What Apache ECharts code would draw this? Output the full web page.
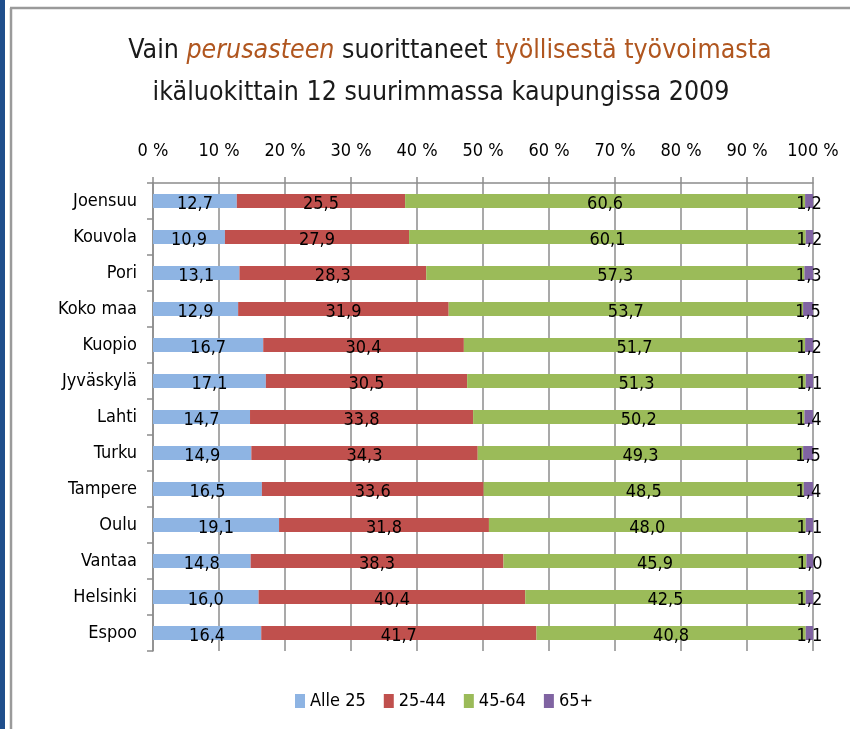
<!DOCTYPE html>
<html>
<head>
<meta charset="utf-8">
<script src="https://cdn.jsdelivr.net/npm/echarts@6/dist/echarts.min.js"></script>
<style>html,body{margin:0;padding:0;background:#fff;}#c{width:850px;height:729px;}</style>
</head>
<body>
<div id="c"></div>
<script>
var categories = ['Joensuu','Kouvola','Pori','Koko maa','Kuopio','Jyväskylä','Lahti','Turku','Tampere','Oulu','Vantaa','Helsinki','Espoo'];
var seriesNames = ['Alle 25','25-44','45-64','65+'];
var alle25 = [12.7,10.9,13.1,12.9,16.7,17.1,14.7,14.9,16.5,19.1,14.8,16.0,16.4];
var age25_44 = [25.5,27.9,28.3,31.9,30.4,30.5,33.8,34.3,33.6,31.8,38.3,40.4,41.7];
var age45_64 = [60.6,60.1,57.3,53.7,51.7,51.3,50.2,49.3,48.5,48.0,45.9,42.5,40.8];
var age65 = [1.2,1.2,1.3,1.5,1.2,1.1,1.4,1.5,1.4,1.1,1.0,1.2,1.1];
var xTicks = [0,10,20,30,40,50,60,70,80,90,100];

var FONT = "'Liberation Sans Narrow','DejaVu Sans Condensed',sans-serif";
var colors = ['#8EB4E3','#C0504D','#9BBB59','#8064A2'];
var allData = [alle25, age25_44, age45_64, age65];

var chart = echarts.init(document.getElementById('c'), null, {renderer:'canvas'});
var series = allData.map(function(d, i){
  return {
    name: seriesNames[i],
    type: 'bar',
    stack: 'total',
    barWidth: 14,
    data: d,
    itemStyle: {color: colors[i]},
    label: {
      show: true,
      position: 'inside',
      offset: [0, 3],
      color: '#000',
      fontFamily: FONT,
      fontSize: 18,
      formatter: function(p){ return p.value.toFixed(1).replace('.', ','); }
    }
  };
});

var richT = {
  a: {fontFamily: FONT, fontSize: 26.5, fontWeight: 'normal', color: '#1a1a1a'},
  b: {fontFamily: FONT, fontSize: 26.5, fontWeight: 'normal', color: '#B0561F', fontStyle: 'italic'},
  c: {fontFamily: FONT, fontSize: 26.5, fontWeight: 'normal', color: '#B0561F'}
};

chart.setOption({
  animation: false,
  backgroundColor: '#fff',
  color: colors,
  textStyle: {fontFamily: FONT},
  graphic: [
    {type:'rect', shape:{x:0,y:0,width:5,height:729}, style:{fill:'#1F4E8C'}, silent:true},
    {type:'line', shape:{x1:11,y1:8,x2:11,y2:729}, style:{stroke:'#9a9a9a', lineWidth:2.5}, silent:true},
    {type:'line', shape:{x1:10,y1:8,x2:850,y2:8}, style:{stroke:'#9a9a9a', lineWidth:2.5}, silent:true}
  ],
  title: [{
    left: 445,
    textAlign: 'center',
    top: 33,
    text: '{a|Vain }{b|perusasteen}{a| suorittaneet }{c|työllisestä työvoimasta}',
    textStyle: {fontWeight: 'normal', rich: richT}
  }, {
    left: 436,
    textAlign: 'center',
    top: 75,
    text: '{a|ikäluokittain 12 suurimmassa kaupungissa 2009}',
    textStyle: {fontWeight: 'normal', rich: richT}
  }],
  legend: {
    data: seriesNames,
    left: 290,
    top: 687,
    itemWidth: 10,
    itemHeight: 14,
    itemGap: 18,
    icon: 'rect',
    textStyle: {fontFamily: FONT, fontSize: 18, color: '#000'}
  },
  grid: {left: 153, right: 37, top: 183, bottom: 78, containLabel: false},
  xAxis: {
    type: 'value',
    position: 'top',
    min: 0, max: 100, interval: 10,
    axisLine: {show: true, lineStyle: {color: '#8c8c8c', width: 1.5}},
    axisTick: {show: true, length: 6, lineStyle: {color: '#8c8c8c', width: 1.5}},
    splitLine: {show: true, lineStyle: {color: '#8c8c8c', width: 1.5}},
    axisLabel: {margin: 23, fontFamily: FONT, fontSize: 18, color: '#000',
      formatter: function(v){ return v + ' %'; }}
  },
  yAxis: {
    type: 'category',
    inverse: true,
    data: categories,
    axisLine: {show: true, lineStyle: {color: '#8c8c8c', width: 1.5}},
    axisTick: {show: true, length: 6, lineStyle: {color: '#8c8c8c', width: 1.5}},
    axisLabel: {margin: 16, fontFamily: FONT, fontSize: 18, color: '#000'}
  },
  series: series
});
</script>
</body>
</html>
